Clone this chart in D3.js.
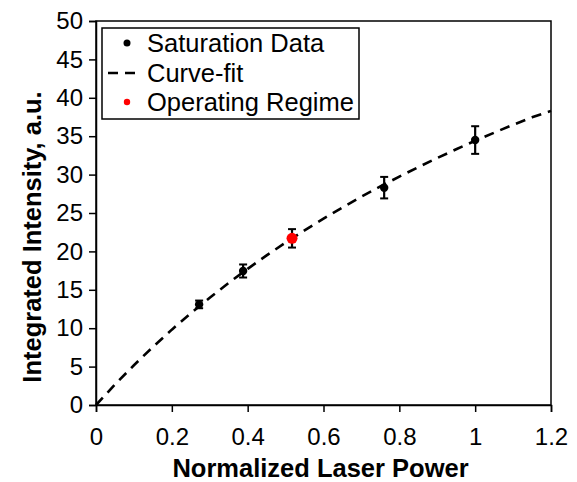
<!DOCTYPE html>
<html>
<head>
<meta charset="utf-8">
<script src="https://cdn.jsdelivr.net/npm/d3@7"></script>
<style>
  html, body { margin: 0; padding: 0; background: #fff; }
  svg { display: block; font-family: "Liberation Sans", Arial, sans-serif; }
</style>
</head>
<body>
<svg id="chart" width="577" height="482"></svg>
<script>
// Measured saturation points: normalized laser power vs integrated intensity
const powerData = [0.272, 0.388, 0.76, 1.0];
const intensityData = [13.1, 17.45, 28.3, 34.5];
const errorData = [0.5, 0.85, 1.4, 1.8];

// Operating regime point
const powerOp = [0.517];
const intensityOp = [21.7];
const errorOp = [1.2];

// Saturation curve-fit, sampled along the power axis
const fitPower = [0, 0.05, 0.1, 0.15, 0.2, 0.25, 0.3, 0.35, 0.4, 0.45, 0.5, 0.55, 0.6,
                  0.65, 0.7, 0.75, 0.8, 0.85, 0.9, 0.95, 1.0, 1.05, 1.1, 1.15, 1.2];
const fitIntensity = [0, 2.67, 5.18, 7.56, 9.81, 11.95, 13.97, 15.9, 17.73, 19.48, 21.15,
                      22.74, 24.26, 25.72, 27.12, 28.46, 29.74, 30.97, 32.16, 33.3, 34.4,
                      35.46, 36.48, 37.46, 38.3];

const xTicks = [0, 0.2, 0.4, 0.6, 0.8, 1, 1.2];
const yTicks = [0, 5, 10, 15, 20, 25, 30, 35, 40, 45, 50];
const legendLabels = ["Saturation Data", "Curve-fit", "Operating Regime"];

const svg = d3.select("#chart");
const margin = { left: 96, right: 26, top: 21, bottom: 77 };
const W = 577, H = 482;

const x = d3.scaleLinear().domain([0, 1.2]).range([margin.left, W - margin.right]);
const y = d3.scaleLinear().domain([0, 50]).range([H - margin.bottom, margin.top]);

// Plot frame
svg.append("rect")
  .attr("x", x(0)).attr("y", y(50))
  .attr("width", x(1.2) - x(0)).attr("height", y(0) - y(50))
  .attr("fill", "none").attr("stroke", "#000").attr("stroke-width", 1.5);

// Axes
const xAxis = svg.append("g")
  .attr("transform", `translate(0,${y(0)})`)
  .call(d3.axisBottom(x).tickValues(xTicks).tickSize(7).tickPadding(16)
    .tickFormat(d => String(d)));
const yAxis = svg.append("g")
  .attr("transform", `translate(${x(0)},0)`)
  .call(d3.axisLeft(y).tickValues(yTicks).tickSize(7).tickPadding(6));

[xAxis, yAxis].forEach(g => {
  g.select(".domain").attr("stroke", "#000").attr("stroke-width", 1.5);
  g.selectAll(".tick line").attr("stroke", "#000").attr("stroke-width", 1.5);
  g.selectAll(".tick text")
    .attr("fill", "#000")
    .style("font-family", "'Liberation Sans', Arial, sans-serif")
    .style("font-size", "24px");
});

// Axis titles
svg.append("text")
  .attr("x", (x(0) + x(1.2)) / 2 - 3).attr("y", 477)
  .attr("text-anchor", "middle")
  .style("font-size", "25.5px").style("font-weight", "bold")
  .text("Normalized Laser Power");

svg.append("text")
  .attr("transform", `translate(41,237) rotate(-90)`)
  .attr("text-anchor", "middle")
  .style("font-size", "25.5px").style("font-weight", "bold")
  .text("Integrated Intensity, a.u.");

// Curve-fit line
const line = d3.line().x((d, i) => x(fitPower[i])).y(d => y(d));
svg.append("path")
  .datum(fitIntensity)
  .attr("d", line)
  .attr("fill", "none").attr("stroke", "#000")
  .attr("stroke-width", 2.6).attr("stroke-dasharray", "10,7");

// Error bars and markers
function drawPoints(px, py, pe, color, r) {
  const g = svg.append("g");
  px.forEach((v, i) => {
    const cx = x(v);
    const y1 = y(py[i] + pe[i]), y2 = y(py[i] - pe[i]);
    g.append("line").attr("x1", cx).attr("x2", cx).attr("y1", y1).attr("y2", y2)
      .attr("stroke", "#000").attr("stroke-width", 2.2);
    [y1, y2].forEach(yy => g.append("line")
      .attr("x1", cx - 4).attr("x2", cx + 4).attr("y1", yy).attr("y2", yy)
      .attr("stroke", "#000").attr("stroke-width", 2));
    g.append("circle").attr("cx", cx).attr("cy", y(py[i])).attr("r", r).attr("fill", color);
  });
}
drawPoints(powerData, intensityData, errorData, "#000", 4.2);
drawPoints(powerOp, intensityOp, errorOp, "#ff0000", 5.5);

// Legend
const lg = svg.append("g");
lg.append("rect").attr("x", 102).attr("y", 28).attr("width", 257).attr("height", 91)
  .attr("fill", "#fff").attr("stroke", "#000").attr("stroke-width", 1.5);
const rowY = [43, 73, 102];
lg.append("circle").attr("cx", 127).attr("cy", rowY[0]).attr("r", 3.5).attr("fill", "#000");
lg.append("line").attr("x1", 108).attr("x2", 142).attr("y1", rowY[1]).attr("y2", rowY[1])
  .attr("stroke", "#000").attr("stroke-width", 2.6).attr("stroke-dasharray", "10,7");
lg.append("circle").attr("cx", 127).attr("cy", rowY[2]).attr("r", 3.2).attr("fill", "#ff0000");
legendLabels.forEach((t, i) => {
  lg.append("text").attr("x", 147).attr("y", rowY[i] + 9)
    .style("font-size", "25.5px").text(t);
});
</script>
</body>
</html>
